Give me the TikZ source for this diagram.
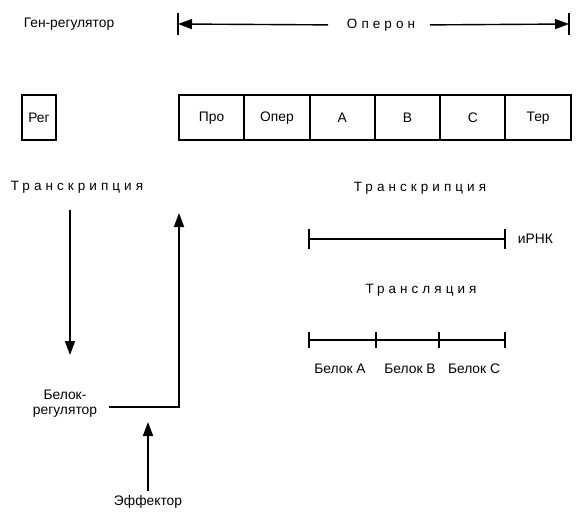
\documentclass[tikz,border=0pt]{standalone}
\usepackage{fontspec}
\setmainfont{Liberation Sans}
\newfontfamily\spacedfont[LetterSpace=30]{Liberation Sans}
\usetikzlibrary{arrows.meta, positioning}

\begin{document}
\begin{tikzpicture}[x=1pt, y=-1pt, >={Triangle[length=14pt, width=10pt]}, line width=1.8pt,
	every node/.style={font=\fontsize{13.8}{15}\selectfont, inner sep=0pt},
	genebox/.style={draw, line width=2pt, outer sep=0pt, minimum width=65.3pt, minimum height=45pt},
	spaced/.style={font=\fontsize{13.5}{15}\spacedfont}]
	\useasboundingbox (0,0) rectangle (584,516);
	
	% ген-регулятор и оперон
	\node (genreg) at (69,24) {Ген-регулятор};
	\node[spaced] (operon) at (381,25) {Оперон};
	\coordinate (opL) at (178,24);
	\coordinate (opR) at (569,24);
	\draw[->, line width=1.4pt, shorten <=18pt] (operon.west) -- (opL);
	\draw[->, line width=1.4pt, shorten <=14pt] (operon.east) -- (opR);
	\draw ([yshift=11pt]opL) -- ([yshift=-11pt]opL);
	\draw ([yshift=11pt]opR) -- ([yshift=-11pt]opR);
	
	% гены
	\node[genebox, minimum width=34pt] (reg) at (39,117.5) {Рег};
	\node[genebox] (pro) at (211.6,118) {Про};
	\node[genebox, right=0pt of pro] (oper) {Опер};
	\node[genebox, right=0pt of oper] (gA) {A};
	\node[genebox, right=0pt of gA] (gB) {B};
	\node[genebox, right=0pt of gB] (gC) {C};
	\node[genebox, right=0pt of gC] (ter) {Тер};
	
	% белок-регулятор
	\node[spaced] (trL) at (77,187) {Транскрипция};
	\node[align=center] (belok) at (65,404) {Белок-\\регулятор};
	\coordinate (downS) at (70,210);
	\coordinate (downE) at (70,355);
	\draw[->] (downS) -- (downE);
	\coordinate (regout) at (109,407);
	\coordinate (corner) at (179,407);
	\coordinate (opin) at (179,213);
	\draw[->] (regout) -- (corner) -- (opin);
	\node (eff) at (148,502) {Эффектор};
	\coordinate (effup) at (148,422);
	\draw[->, shorten <=4pt] (eff) -- (effup);
	
	% иРНК
	\node[spaced] (trR) at (420,188) {Транскрипция};
	\coordinate (m1) at (309,239);
	\coordinate (m2) at (505,239);
	\draw (m1) -- (m2);
	\draw ([yshift=10pt]m1) -- ([yshift=-10pt]m1);
	\draw ([yshift=10pt]m2) -- ([yshift=-10pt]m2);
	\node[right=12pt of m2] (mrna) {иРНК};
	
	% белки
	\node[spaced] (trl) at (421,290) {Трансляция};
	\coordinate (p0) at (309,340);
	\coordinate (p1) at (376,340);
	\coordinate (p2) at (439,340);
	\coordinate (p3) at (505,340);
	\draw (p0) -- (p3);
	\draw ([yshift=8pt]p0) -- ([yshift=-8pt]p0);
	\draw ([yshift=8pt]p1) -- ([yshift=-8pt]p1);
	\draw ([yshift=8pt]p2) -- ([yshift=-8pt]p2);
	\draw ([yshift=8pt]p3) -- ([yshift=-8pt]p3);
	\node (bA) at (340,369) {Белок А};
	\node (bB) at (410,369) {Белок В};
	\node (bC) at (474,369) {Белок С};
\end{tikzpicture}
\end{document}
